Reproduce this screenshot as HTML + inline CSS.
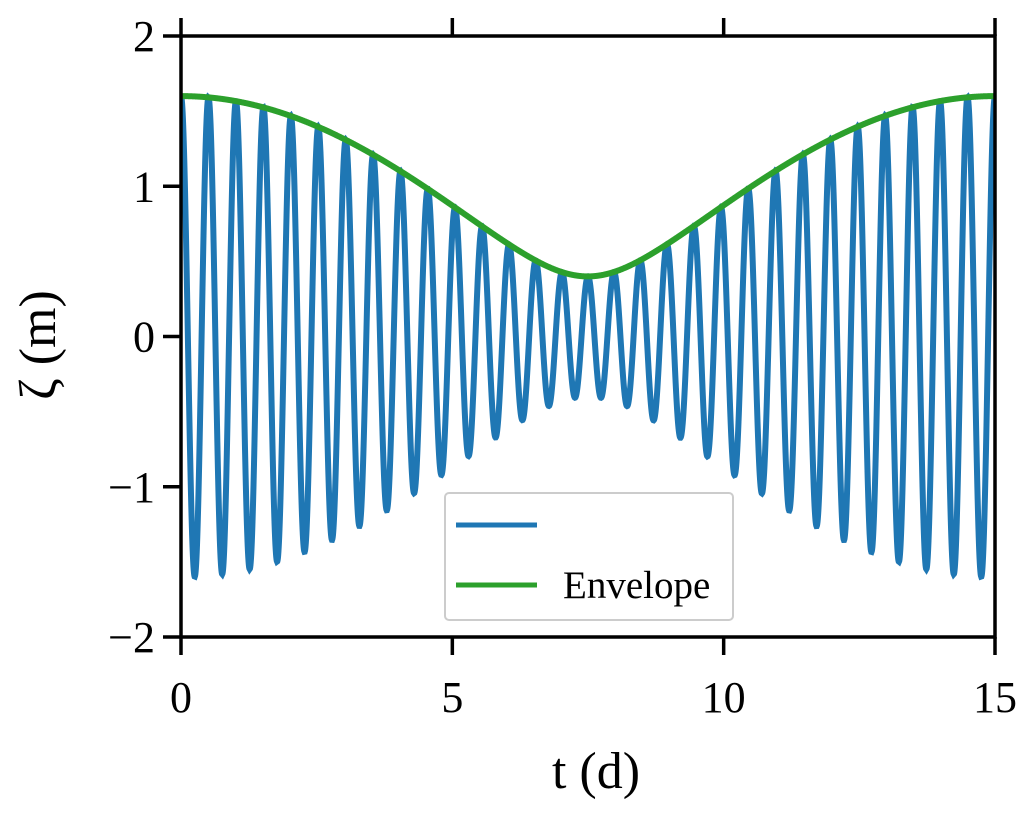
<!DOCTYPE html>
<html><head><meta charset="utf-8"><style>
body{margin:0;background:#fff}
text{font-family:"Liberation Serif","DejaVu Serif",serif;fill:#000}
</style></head><body>
<svg id="chart" width="1033" height="809" viewBox="0 0 1033 809" xmlns="http://www.w3.org/2000/svg">
<g id="plot"></g>
<g id="axes"></g>
</svg>
<script>
// constituents: amplitude (m), frequency (cycles per day)
const amplitudes = [1.0, 0.6];
const frequencies = [2.0, 1.9333];
const xTicks = [0, 5, 10, 15];
const yTicks = [-2, -1, 0, 1, 2];
const yTickLabels = ["\u22122", "\u22121", "0", "1", "2"];

const X0=181, X1=995, Y0=637, Y1=36;
const xs = t => X0 + (t-0)/(15-0)*(X1-X0);
const ys = v => Y0 - (v+2)/4*(Y0-Y1);
const NS="http://www.w3.org/2000/svg";
function mk(tag, attrs, parent){const e=document.createElementNS(NS,tag);for(const k in attrs)e.setAttribute(k,attrs[k]);parent.appendChild(e);return e;}
const plot=document.getElementById('plot'), axes=document.getElementById('axes');

const clip=mk('clipPath',{id:'c'},plot); mk('rect',{x:X0,y:Y1,width:X1-X0,height:Y0-Y1},clip);
let sig='', env='';
const N=3000;
for(let i=0;i<=N;i++){
  const t=15*i/N;
  let v=0; for(let k=0;k<amplitudes.length;k++) v+=amplitudes[k]*Math.cos(2*Math.PI*frequencies[k]*t);
  const a=amplitudes[0],b=amplitudes[1];
  const e=Math.sqrt(a*a+b*b+2*a*b*Math.cos(2*Math.PI*(frequencies[0]-frequencies[1])*t));
  sig+=(i?'L':'M')+xs(t).toFixed(2)+','+ys(v).toFixed(2);
  env+=(i?'L':'M')+xs(t).toFixed(2)+','+ys(e).toFixed(2);
}
const s=mk('path',{d:sig,fill:'none',stroke:'#1f77b4','stroke-width':6,'clip-path':'url(#c)'},plot);


const en=mk('path',{d:env,fill:'none',stroke:'#2ca02c','stroke-width':6,'clip-path':'url(#c)'},plot);



const fr=mk('rect',{x:X0,y:Y1,width:X1-X0,height:Y0-Y1,fill:'none',stroke:'#000','stroke-width':3.5},axes);


xTicks.forEach(t=>{
  const x=xs(t);
  mk('line',{x1:x,x2:x,y1:Y0,y2:Y0+18,stroke:'#000','stroke-width':3.5},axes);
  mk('line',{x1:x,x2:x,y1:Y1,y2:Y1-18,stroke:'#000','stroke-width':3.5},axes);
  const l=mk('text',{x:x,y:712,'font-size':44,'text-anchor':'middle'},axes);
  l.textContent=t;
  
  
});
yTicks.forEach((v,i)=>{
  const y=ys(v);
  mk('line',{x1:X0,x2:X0-18,y1:y,y2:y,stroke:'#000','stroke-width':3.5},axes);
  const l=mk('text',{x:X0-26,y:y+15,'font-size':44,'text-anchor':'end'},axes);
  l.textContent=yTickLabels[i];
  
  
});
const xt=mk('text',{x:(X0+X1)/2+8,y:788,'font-size':52,'text-anchor':'middle'},axes);
xt.textContent='t (d)';


const yt=mk('text',{x:0,y:0,'font-size':52,'text-anchor':'middle',transform:'translate(55,345) rotate(-90)'},axes);
yt.textContent='\u03b6 (m)';



const lg=mk('g',{},axes);


mk('rect',{x:445,y:493,width:288,height:127,rx:4,fill:'#fff','fill-opacity':0.8,stroke:'#ccc','stroke-width':2},lg);
mk('line',{x1:456,x2:537,y1:525,y2:525,stroke:'#1f77b4','stroke-width':5},lg);
mk('line',{x1:456,x2:537,y1:585,y2:585,stroke:'#2ca02c','stroke-width':5},lg);
const lt=mk('text',{x:563,y:598,'font-size':39},lg);
lt.textContent='Envelope';


</script>
</body></html>
